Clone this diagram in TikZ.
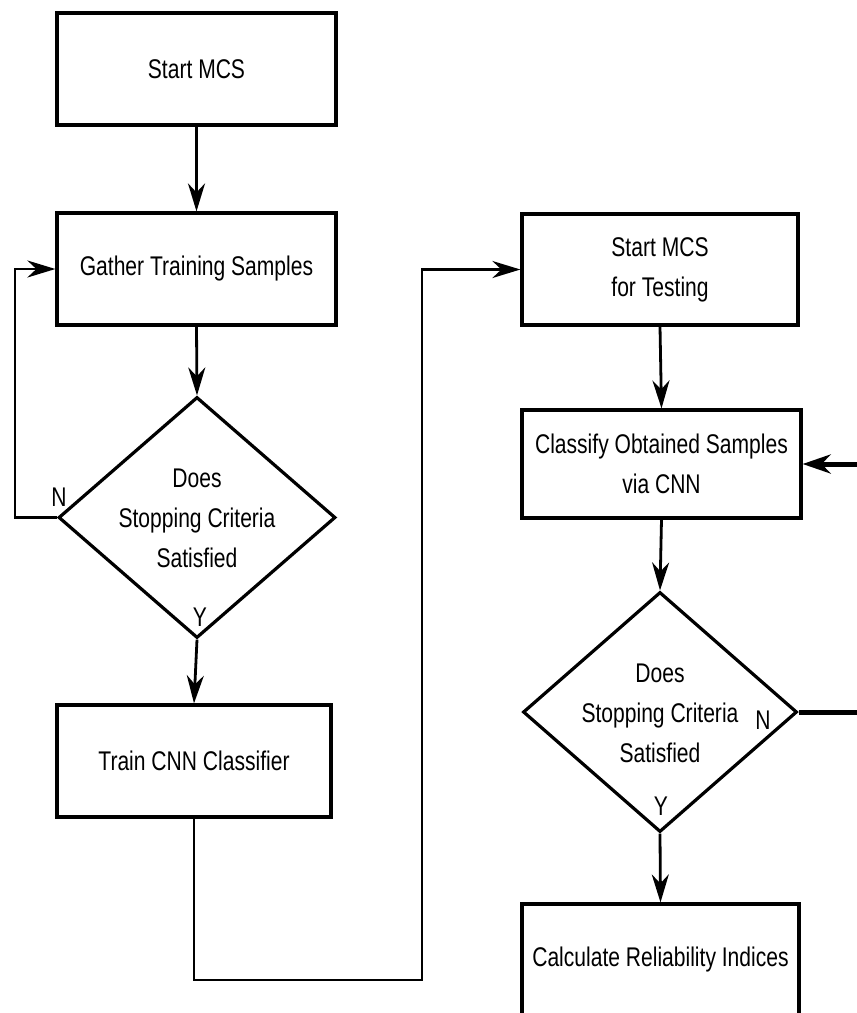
\documentclass[tikz,border=0pt]{standalone}
\usepackage{fontspec}
\setmainfont{Liberation Sans}[FakeStretch=0.78]
\usetikzlibrary{shapes.geometric,arrows.meta}
\begin{document}
\begin{tikzpicture}[x=1pt,y=-1pt,
  every node/.style={font=\fontsize{27}{40}\selectfont},
  procbox/.style={draw,line width=3.2pt,rectangle,inner sep=0pt,align=center},
  decision/.style={draw,line width=3.2pt,diamond,inner sep=0pt},
  flow/.style={line width=2.8pt,-{Stealth[length=28pt,width=17pt,inset=9pt]}},
  flowheavy/.style={line width=5pt,-{Stealth[length=28pt,width=19pt,inset=9pt]}},
  tag/.style={font=\fontsize{27}{28}\selectfont,inner sep=0pt}]
\clip (0,0) rectangle (857,1013);
\fill[white] (0,0) rectangle (857,1013);

% left column: training
\node[procbox,minimum width=279pt,minimum height=112pt] (s1) at (196.5,69) {Start MCS};
\node[procbox,minimum width=279pt,minimum height=112pt] (g) at (196.5,269) {Gather Training Samples};
\node[decision,minimum width=277pt,minimum height=241pt] (d1) at (197,517.5) {};
\node[align=center] (d1t) at (197,518) {Does\\Stopping Criteria\\Satisfied};
\node[procbox,minimum width=274pt,minimum height=112pt] (t) at (194,761) {Train CNN Classifier};

% right column: testing
\node[procbox,minimum width=276pt,minimum height=111pt] (tb) at (660,269.5) {Start MCS\\for Testing};
\node[procbox,minimum width=279pt,minimum height=108pt] (c) at (661.5,464) {Classify Obtained Samples\\via CNN};
\node[decision,minimum width=274pt,minimum height=240pt] (d2) at (660,712) {};
\node[align=center] (d2t) at (660,713) {Does\\Stopping Criteria\\Satisfied};
\node[procbox,minimum width=277pt,minimum height=112pt] (r) at (660.5,960) {Calculate Reliability Indices};

% branch labels
\node[tag] (n1) at (59,497) {N};
\node[tag] (y1) at (200,617) {Y};
\node[tag] (n2) at (763,720) {N};
\node[tag] (y2) at (661,806) {Y};

% routing points
\coordinate (lx) at (15,0);
\coordinate (by) at (0,980);
\coordinate (mx) at (422,0);
\coordinate (rx) at (890,0);

% connectors
\draw[flow] (s1.south) -- (g.north);
\draw[flow] (g.south) -- (d1.north);
\draw[flow] (d1.south) -- (t.north);
\draw[flow] (d1.west) -- (lx |- d1.west) |- (g.west);
\draw[flow] (t.south) |- (mx |- by) -- (mx |- tb.west) -- (tb.west);
\draw[flow] (tb.south) -- (c.north);
\draw[flow] (c.south) -- (d2.north);
\draw[flow] (d2.south) -- (r.north);
\draw[flowheavy] (d2.east) -- (rx |- d2.east) -- (rx |- c.east) -- (c.east);
\end{tikzpicture}
\end{document}
